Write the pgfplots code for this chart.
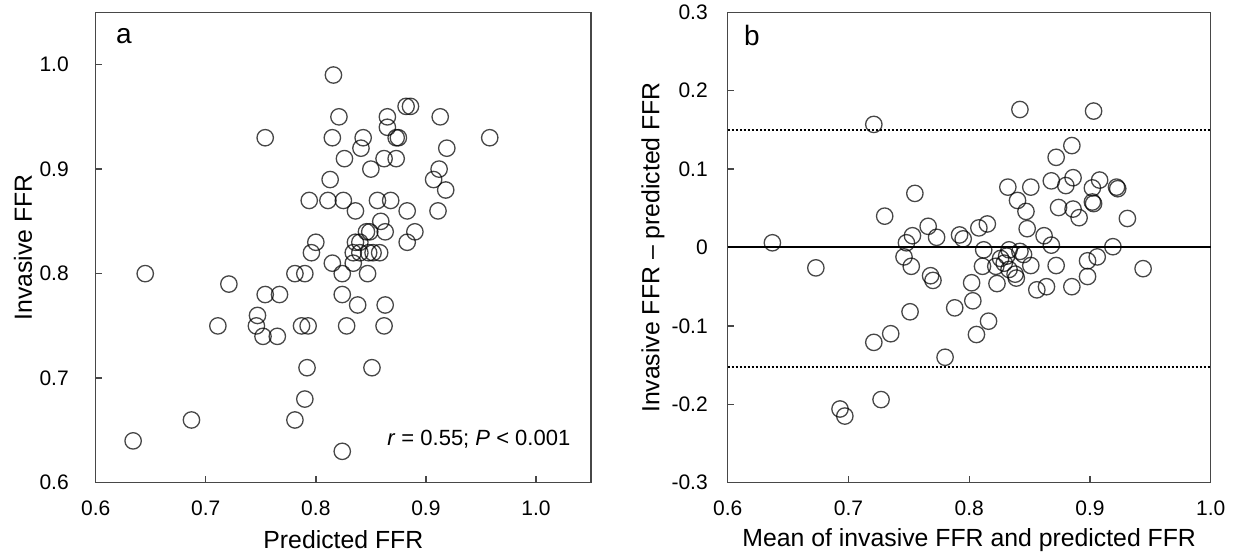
\documentclass[border=0pt]{standalone}
\usepackage{fontspec}
\setmainfont{Liberation Sans}
\usepackage{pgfplots}
\pgfplotsset{compat=1.18}

\pgfplotsset{
  ffrpanel/.style={
    scale only axis,
    anchor=south west,
    axis line style={black!72, line width=0.7pt},
    major tick style={black!72, line width=0.7pt},
    major tick length=3.3pt,
    xtick pos=bottom, ytick pos=left,
    tick align=inside,
    tick label style={font=\fontsize{10.5}{12}\selectfont, inner sep=0pt},
    label style={font=\fontsize{12.4}{14}\selectfont},
    xticklabel style={anchor=center, yshift=-12.6pt},
    xlabel style={at={(axis description cs:0.5,-0.122)}, anchor=center},
    clip=false,
  },
  ffrmarks/.style={only marks, mark=o, mark size=4.1pt,
    mark options={draw=black, draw opacity=0.72, line width=0.65pt}},
}

\begin{document}
\begin{tikzpicture}
\useasboundingbox (0,0) rectangle (617pt,280pt);

% panel a: invasive vs predicted
\begin{axis}[ffrpanel,
  at={(47.85pt,38.65pt)}, width=247.65pt, height=235.2pt,
  xmin=0.6, xmax=1.05, ymin=0.6, ymax=1.05,
  xtick={0.6,0.7,0.8,0.9,1.0}, xticklabels={0.6,0.7,0.8,0.9,1.0},
  ytick={0.6,0.7,0.8,0.9,1.0}, yticklabels={0.6,0.7,0.8,0.9,1.0},
  yticklabel style={anchor=east, xshift=-13.3pt},
  xlabel={Predicted FFR},
  ylabel={Invasive FFR},
  ylabel style={at={(axis description cs:-0.147,0.5)}, anchor=center},
]
\addplot[ffrmarks] coordinates {
 (0.816,0.99) (0.821,0.95) (0.865,0.95) (0.882,0.96) (0.886,0.96) (0.913,0.95)
 (0.865,0.94) (0.754,0.93) (0.815,0.93) (0.843,0.93) (0.873,0.93) (0.875,0.93)
 (0.958,0.93) (0.841,0.92) (0.919,0.92) (0.826,0.91) (0.862,0.91) (0.873,0.91)
 (0.850,0.90) (0.912,0.90) (0.813,0.89) (0.907,0.89) (0.918,0.88) (0.794,0.87)
 (0.811,0.87) (0.825,0.87) (0.856,0.87) (0.868,0.87) (0.836,0.86) (0.883,0.86)
 (0.911,0.86) (0.859,0.85) (0.846,0.84) (0.849,0.84) (0.863,0.84) (0.890,0.84)
 (0.800,0.83) (0.836,0.83) (0.840,0.83) (0.883,0.83) (0.796,0.82) (0.834,0.82)
 (0.840,0.82) (0.848,0.82) (0.852,0.82) (0.858,0.82) (0.815,0.81) (0.834,0.81)
 (0.645,0.80) (0.781,0.80) (0.790,0.80) (0.824,0.80) (0.847,0.80) (0.721,0.79)
 (0.754,0.78) (0.767,0.78) (0.824,0.78) (0.838,0.77) (0.863,0.77) (0.747,0.76)
 (0.711,0.75) (0.746,0.75) (0.787,0.75) (0.793,0.75) (0.828,0.75) (0.862,0.75)
 (0.752,0.74) (0.765,0.74) (0.792,0.71) (0.851,0.71) (0.790,0.68) (0.687,0.66)
 (0.781,0.66) (0.634,0.64) (0.824,0.63)
};
\node[font=\fontsize{14}{16}\selectfont] at (rel axis cs:0.057,0.95) {a};
\node[anchor=east, inner sep=0pt, font=\fontsize{11}{13}\selectfont]
  at (rel axis cs:0.959,0.092) {\textit{r} = 0.55; \textit{P} < 0.001};
\end{axis}

% panel b: Bland-Altman
\begin{axis}[ffrpanel,
  at={(363.85pt,38.65pt)}, width=241.5pt, height=235.2pt,
  xmin=0.6, xmax=1.0, ymin=-0.3, ymax=0.3,
  xtick={0.6,0.7,0.8,0.9,1.0}, xticklabels={0.6,0.7,0.8,0.9,1.0},
  ytick={-0.3,-0.2,-0.1,0,0.1,0.2,0.3},
  yticklabels={-0.3,-0.2,-0.1,0,0.1,0.2,0.3},
  yticklabel style={anchor=east, xshift=-9.8pt},
  xlabel={Mean of invasive FFR and predicted FFR},
  ylabel={Invasive FFR – predicted FFR},
  ylabel style={at={(axis description cs:-0.155,0.5)}, anchor=center},
]
\addplot[black, line width=1pt] coordinates {(0.6,0) (1.0,0)};
\addplot[black, line width=0.9pt, dash pattern=on 0.9pt off 1.1pt]
  coordinates {(0.6,0.150) (1.0,0.150)};
\addplot[black, line width=0.9pt, dash pattern=on 0.9pt off 1.1pt]
  coordinates {(0.6,-0.152) (1.0,-0.152)};
\addplot[ffrmarks] coordinates {
 (0.637,0.006) (0.673,-0.026) (0.721,0.157) (0.730,0.040) (0.755,0.069)
 (0.766,0.027) (0.753,0.015) (0.748,0.006) (0.746,-0.012) (0.752,-0.024)
 (0.768,-0.036) (0.770,-0.042) (0.773,0.013) (0.751,-0.082) (0.735,-0.110)
 (0.721,-0.121) (0.693,-0.206) (0.697,-0.215) (0.727,-0.194) (0.780,-0.140)
 (0.806,-0.111) (0.816,-0.094) (0.788,-0.077) (0.803,-0.068) (0.802,-0.045)
 (0.823,-0.046) (0.856,-0.054) (0.864,-0.050) (0.885,-0.050) (0.898,-0.037)
 (0.944,-0.027) (0.872,0.115) (0.885,0.130) (0.832,0.077) (0.851,0.077)
 (0.868,0.085) (0.880,0.079) (0.886,0.089) (0.902,0.076) (0.908,0.086)
 (0.922,0.077) (0.923,0.075) (0.902,0.058) (0.903,0.056) (0.840,0.060)
 (0.847,0.046) (0.874,0.051) (0.886,0.049) (0.891,0.038) (0.931,0.037)
 (0.848,0.024) (0.862,0.015) (0.868,0.003) (0.919,0.001) (0.906,-0.012)
 (0.898,-0.017) (0.872,-0.023) (0.792,0.016) (0.795,0.011) (0.808,0.025)
 (0.815,0.030) (0.812,-0.003) (0.811,-0.024) (0.822,-0.024) (0.851,-0.023)
 (0.833,-0.003) (0.842,-0.005) (0.845,-0.009) (0.826,-0.014) (0.831,-0.011)
 (0.829,-0.020) (0.833,-0.028) (0.838,-0.034) (0.839,-0.039)
 (0.842,0.176) (0.903,0.174)
};
\node[font=\fontsize{14}{16}\selectfont] at (rel axis cs:0.05,0.95) {b};
\end{axis}
\end{tikzpicture}
\end{document}
